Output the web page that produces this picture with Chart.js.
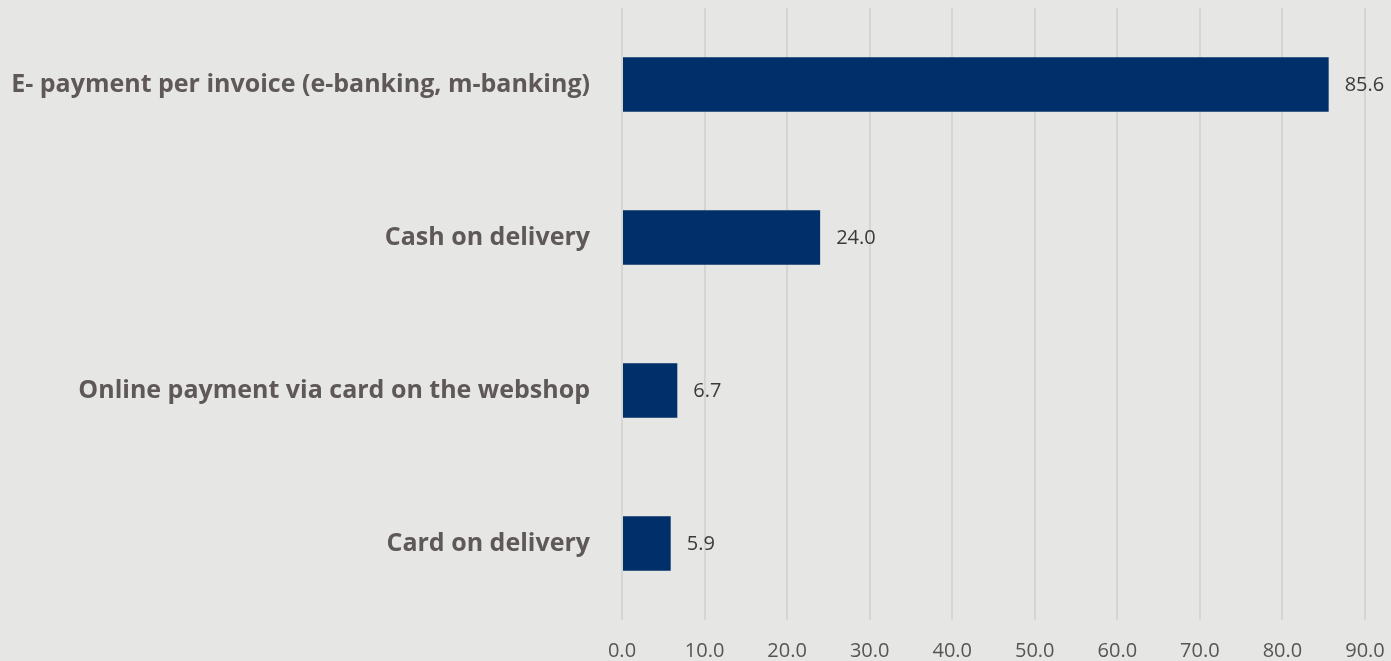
<!DOCTYPE html>
<html lang="en">
<head>
  <meta charset="UTF-8" />
  <title>Payment methods</title>
  <script src="https://cdn.jsdelivr.net/npm/chart.js"></script>
  <style>
    html, body { margin: 0; padding: 0; background: #e6e6e4; }
    .wrap { width: 1391px; height: 661px; }
  </style>
</head>
<body>
  <div class="wrap"><canvas id="chart"></canvas></div>

  <script>
    const methods = [
      'E- payment per invoice (e-banking, m-banking)',
      'Cash on delivery',
      'Online payment via card on the webshop',
      'Card on delivery'
    ];
    const shares = [85.6, 24.0, 6.7, 5.9];
    const axisMax = 90;

    // value labels to the right of each bar
    const valueLabels = {
      id: 'valueLabels',
      afterDatasetsDraw(chart) {
        const ctx = chart.ctx;
        const meta = chart.getDatasetMeta(0);
        ctx.save();
        ctx.font = '20px "Open Sans", sans-serif';
        ctx.fillStyle = '#3a3a3a';
        ctx.textBaseline = 'middle';
        meta.data.forEach((bar, i) => {
          ctx.fillText(shares[i].toFixed(1), bar.x + 16, bar.y + 1);
        });
        ctx.restore();
      }
    };

    new Chart(document.getElementById('chart'), {
      type: 'bar',
      data: {
        labels: methods,
        datasets: [{
          data: shares,
          backgroundColor: '#002f6a',
          categoryPercentage: 1,
          barPercentage: 0.355
        }]
      },
      options: {
        indexAxis: 'y',
        responsive: true,
        maintainAspectRatio: false,
        animation: false,
        layout: { padding: { top: 8, right: 26, left: 0, bottom: 0 } },
        plugins: {
          legend: { display: false },
          tooltip: { enabled: false }
        },
        scales: {
          x: {
            min: 0,
            max: axisMax,
            afterFit(scale) {
              scale.height = 41;
              scale.paddingLeft = 0;
              scale.paddingRight = 0;
            },
            ticks: {
              stepSize: 10,
              padding: 19,
              color: '#555555',
              font: { family: '"Open Sans", sans-serif', size: 20 },
              callback: v => v.toFixed(1)
            },
            grid: { color: '#d5d5d3', lineWidth: 2, drawTicks: false },
            border: { display: false }
          },
          y: {
            afterFit(scale) {
              scale.width = 622;
              scale.paddingTop = 0;
              scale.paddingBottom = 0;
            },
            ticks: {
              padding: 32,
              color: '#5f5858',
              font: { family: '"Open Sans", sans-serif', size: 25, weight: 'bold' }
            },
            grid: { display: false, drawTicks: false },
            border: { display: false }
          }
        }
      },
      plugins: [valueLabels]
    });
  </script>
</body>
</html>
